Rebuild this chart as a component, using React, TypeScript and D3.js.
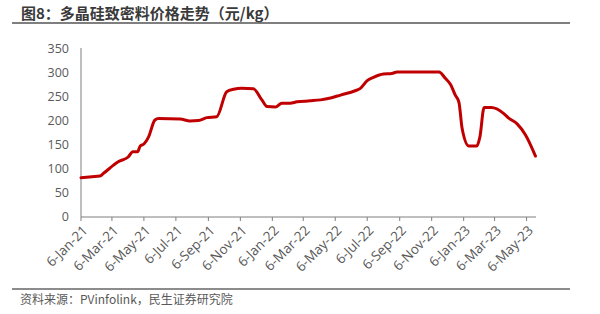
import React from "react";
import * as d3 from "d3";

const dates = [
  "2021-01-06","2021-01-27","2021-02-11","2021-02-18","2021-03-09","2021-03-18","2021-04-06","2021-04-15","2021-04-24","2021-04-29",
  "2021-05-06","2021-05-15","2021-05-27","2021-06-03","2021-07-14","2021-08-02","2021-08-18","2021-09-03","2021-09-22","2021-10-11",
  "2021-10-24","2021-11-09","2021-12-01","2021-12-17","2021-12-27","2022-01-12","2022-01-24","2022-02-09","2022-02-22","2022-03-19",
  "2022-04-08","2022-04-27","2022-05-16","2022-06-13","2022-06-23","2022-07-06","2022-07-18","2022-08-06","2022-08-22","2022-09-01",
  "2022-11-20","2022-12-02","2022-12-12","2022-12-21","2022-12-28","2023-01-03","2023-01-16","2023-01-31","2023-02-06","2023-02-14",
  "2023-02-28","2023-03-23","2023-04-02","2023-04-18","2023-05-04","2023-05-23"
];
const prices = [
  82, 84, 85.5, 91, 108, 115, 125, 136, 136, 148,
  152, 167, 202, 205, 204, 200, 201, 207, 209, 261,
  266, 268, 267, 244, 230, 229, 237, 237, 240, 242,
  244, 248, 254, 263, 268, 284, 291, 298, 299, 302,
  302, 289, 276, 254, 239, 185, 148, 148, 167, 228,
  228, 216, 206, 194, 171, 127
];
const yTicks = [0, 50, 100, 150, 200, 250, 300, 350];
const xTickLabels = [
  "6-Jan-21","6-Mar-21","6-May-21","6-Jul-21","6-Sep-21","6-Nov-21","6-Jan-22","6-Mar-22",
  "6-May-22","6-Jul-22","6-Sep-22","6-Nov-22","6-Jan-23","6-Mar-23","6-May-23"
];
const title = "图8：多晶硅致密料价格走势（元/kg）";
const source = "资料来源：PVinfolink，民生证券研究院";

const parse = d3.timeParse("%Y-%m-%d");
const parseTick = d3.timeParse("%d-%b-%y");

export default function App() {
  const x = d3.scaleTime()
    .domain([parse("2021-01-06")!, parse("2023-05-24")!])
    .range([81, 536]);
  const y = d3.scaleLinear().domain([0, 350]).range([217, 49]);
  const data = dates.map((d, i) => ({ date: parse(d)!, v: prices[i] }));
  const line = d3.line<{ date: Date; v: number }>()
    .x(d => x(d.date))
    .y(d => y(d.v))
    .curve(d3.curveMonotoneX);
  const font = "'Open Sans', 'Noto Sans CJK SC', sans-serif";
  const axisColor = "#7f7f7f";
  return (
    <svg width={600} height={314} style={{ position: "absolute", left: 0, top: 0, background: "#fff" }}>
      <rect x={0} y={0} width={600} height={314} fill="#fff" />
      <text x={21} y={19} fontSize={15} fontWeight="bold" fill="#3a3a3a"
        fontFamily="'Noto Sans CJK SC', sans-serif">{title}</text>
      <line x1={12} x2={570} y1={23} y2={23} stroke="#555" strokeWidth={1.5} />
      {/* y axis */}
      <line x1={x.range()[0]} x2={x.range()[0]} y1={y(350) - 1} y2={y(0)} stroke={axisColor} strokeWidth={1} />
      {yTicks.map(t => (
        <text key={t} x={69} y={y(t)} dy="0.35em" textAnchor="end" fontSize={12.5}
          fill="#595959" fontFamily={font}>{t}</text>
      ))}
      {/* x axis */}
      <line x1={x.range()[0]} x2={x.range()[1]} y1={y(0)} y2={y(0)} stroke={axisColor} strokeWidth={1} />
      {xTickLabels.map(l => {
        const xx = x(parseTick(l)!);
        return (
          <g key={l}>
            <line x1={xx} x2={xx} y1={y(0)} y2={y(0) + 4} stroke={axisColor} strokeWidth={1} />
            <text transform={`translate(${xx + 4},${y(0) + 11}) rotate(-45)`} textAnchor="end"
              dy="0.35em" fontSize={13.5} fill="#595959" fontFamily={font}>{l}</text>
          </g>
        );
      })}
      <path d={line(data) || ""} fill="none" stroke="#c00000" strokeWidth={3} strokeLinejoin="round" strokeLinecap="round" />
      <line x1={12} x2={570} y1={289} y2={289} stroke="#666" strokeWidth={1.5} />
      <text x={20} y={304} fontSize={12} fill="#595959"
        fontFamily="'Noto Sans CJK SC', sans-serif">{source}</text>
    </svg>
  );
}
